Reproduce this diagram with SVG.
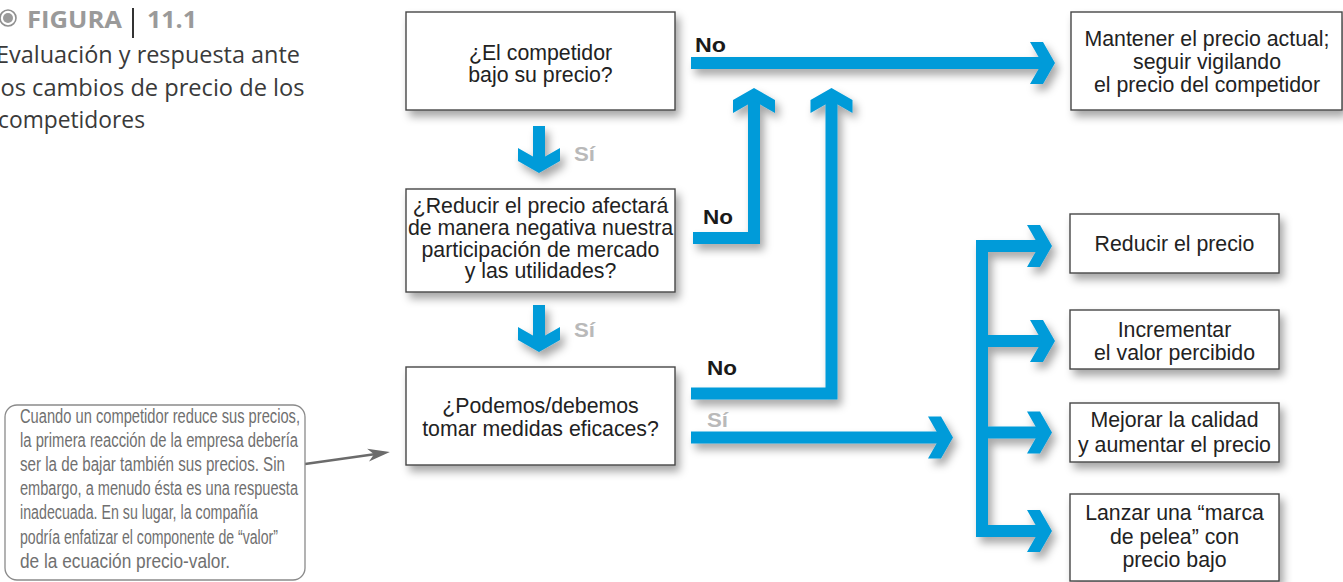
<svg xmlns="http://www.w3.org/2000/svg" width="1343" height="582" viewBox="0 0 1343 582">
  <defs>
    <filter id="sh" x="-20%" y="-20%" width="150%" height="160%">
      <feDropShadow dx="4" dy="6" stdDeviation="4" flood-color="#000" flood-opacity="0.35"/>
    </filter>
    <marker id="ah" viewBox="-30 -25 35 50" refX="-8" refY="0" markerWidth="35" markerHeight="50" markerUnits="userSpaceOnUse" orient="auto" overflow="visible">
      <polygon points="0,0 -12,-21 -25,-21 -13,0 -25,21 -12,21" fill="#009bd9"/>
    </marker>
    <marker id="ah2" viewBox="-25 -8 27 16" refX="-14" refY="0" markerWidth="27" markerHeight="16" markerUnits="userSpaceOnUse" orient="auto" overflow="visible">
      <polygon points="0,0 -22,-6.5 -16,0 -22,6.5" fill="#6b6b6b"/>
    </marker>
    <style>
      .box { fill: #fff; stroke: #464646; stroke-width: 1.4; }
      .bt { font-family: "Liberation Sans", Arial, sans-serif; font-size: 21.3px; fill: #222; text-anchor: middle; }
      .flow { fill: none; stroke: #009bd9; stroke-width: 12; stroke-linejoin: miter; stroke-linecap: butt; }
      .no { font-family: "Liberation Sans", Arial, sans-serif; font-weight: bold; font-size: 21px; fill: #1a1a1a; }
      .si { font-family: "Liberation Sans", Arial, sans-serif; font-weight: bold; font-size: 21px; fill: #b9b9b9; }
      .ann { font-family: "Liberation Sans Narrow", "Liberation Sans", Arial, sans-serif; font-size: 19.5px; fill: #707070; }
      .fig { font-family: "Open Sans", "Noto Sans", sans-serif; font-weight: bold; font-size: 24px; fill: #9a9a9a; }
      .sub { font-family: "Open Sans", "Noto Sans", sans-serif; font-size: 23px; fill: #3a3a3a; }
    </style>
  </defs>

  <g id="title">
    <circle cx="8" cy="18" r="8" fill="none" stroke="#8f8f8f" stroke-width="1.6"/>
    <circle cx="8" cy="18" r="5" fill="#9a9a9a"/>
    <text class="fig" x="27" y="28" textLength="95" lengthAdjust="spacingAndGlyphs">FIGURA</text>
    <line x1="133" y1="8" x2="133" y2="38" stroke="#333" stroke-width="2"/>
    <text class="fig" x="147" y="28" textLength="50" lengthAdjust="spacingAndGlyphs">11.1</text>
    <text class="sub" x="-4" y="63" textLength="304" lengthAdjust="spacingAndGlyphs">Evaluación y respuesta ante</text>
    <text class="sub" x="-5.5" y="96" textLength="310" lengthAdjust="spacingAndGlyphs">los cambios de precio de los</text>
    <text class="sub" x="-2" y="128" textLength="147" lengthAdjust="spacingAndGlyphs">competidores</text>
  </g>

  <g id="connectors">
    <g filter="url(#sh)">
      <path class="flow" d="M691,63 H1047" marker-end="url(#ah)"/>
      <path class="flow" d="M693,238 H754 V96" marker-end="url(#ah)"/>
      <path class="flow" d="M691,393.5 H831.5 V96" marker-end="url(#ah)"/>
      <path class="flow" d="M691,437.5 H945" marker-end="url(#ah)"/>
      <path class="flow" d="M539,126 V165" marker-end="url(#ah)"/>
      <path class="flow" d="M539,305 V344" marker-end="url(#ah)"/>
      <path class="flow" d="M982,240 V537" stroke-width="13"/>
      <path class="flow" d="M976,246 H1044" marker-end="url(#ah)"/>
      <path class="flow" d="M976,341 H1047" marker-end="url(#ah)"/>
      <path class="flow" d="M976,432.5 H1044" marker-end="url(#ah)"/>
      <path class="flow" d="M976,531 H1044" marker-end="url(#ah)"/>
    </g>
    <line x1="305" y1="464" x2="376" y2="454" stroke="#6b6b6b" stroke-width="2.5" marker-end="url(#ah2)"/>
    <text class="no" x="695" y="52" textLength="31" lengthAdjust="spacingAndGlyphs">No</text>
    <text class="no" x="703" y="224" textLength="30" lengthAdjust="spacingAndGlyphs">No</text>
    <text class="no" x="707" y="375" textLength="30" lengthAdjust="spacingAndGlyphs">No</text>
    <text class="si" x="707" y="427" textLength="21" lengthAdjust="spacingAndGlyphs">Sí</text>
    <text class="si" x="574" y="161" textLength="21" lengthAdjust="spacingAndGlyphs">Sí</text>
    <text class="si" x="574" y="337" textLength="21" lengthAdjust="spacingAndGlyphs">Sí</text>
  </g>

  <g id="q1">
    <rect class="box" x="406" y="12" width="269" height="98" filter="url(#sh)"/>
    <text class="bt" x="540.5" y="60">¿El competidor</text>
    <text class="bt" x="540.5" y="82">bajo su precio?</text>
  </g>
  <g id="q2">
    <rect class="box" x="406" y="189" width="269" height="103" filter="url(#sh)"/>
    <text class="bt" x="540.5" y="213">¿Reducir el precio afectará</text>
    <text class="bt" x="540.5" y="235">de manera negativa nuestra</text>
    <text class="bt" x="540.5" y="257">participación de mercado</text>
    <text class="bt" x="540.5" y="278">y las utilidades?</text>
  </g>
  <g id="q3">
    <rect class="box" x="406" y="367" width="269" height="98" filter="url(#sh)"/>
    <text class="bt" x="540.5" y="413">¿Podemos/debemos</text>
    <text class="bt" x="540.5" y="436">tomar medidas eficaces?</text>
  </g>
  <g id="keep">
    <rect class="box" x="1071" y="12" width="271" height="98" filter="url(#sh)"/>
    <text class="bt" x="1207" y="46">Mantener el precio actual;</text>
    <text class="bt" x="1207" y="69">seguir vigilando</text>
    <text class="bt" x="1207" y="92">el precio del competidor</text>
  </g>
  <g id="r1">
    <rect class="box" x="1070" y="214" width="209" height="59" filter="url(#sh)"/>
    <text class="bt" x="1174.5" y="251">Reducir el precio</text>
  </g>
  <g id="r2">
    <rect class="box" x="1070" y="310" width="209" height="59" filter="url(#sh)"/>
    <text class="bt" x="1174.5" y="337">Incrementar</text>
    <text class="bt" x="1174.5" y="360">el valor percibido</text>
  </g>
  <g id="r3">
    <rect class="box" x="1070" y="403" width="209" height="59" filter="url(#sh)"/>
    <text class="bt" x="1174.5" y="427">Mejorar la calidad</text>
    <text class="bt" x="1174.5" y="452">y aumentar el precio</text>
  </g>
  <g id="r4">
    <rect class="box" x="1070" y="494" width="209" height="87" filter="url(#sh)"/>
    <text class="bt" x="1174.5" y="520">Lanzar una “marca</text>
    <text class="bt" x="1174.5" y="544">de pelea” con</text>
    <text class="bt" x="1174.5" y="567">precio bajo</text>
  </g>

  <g id="note">
    <rect x="5" y="405" width="300" height="175" rx="12" ry="12" fill="#fff" stroke="#8a8a8a" stroke-width="1.3"/>
    <text class="ann" x="20" y="423" textLength="280" lengthAdjust="spacingAndGlyphs">Cuando un competidor reduce sus precios,</text>
    <text class="ann" x="20" y="447" textLength="278" lengthAdjust="spacingAndGlyphs">la primera reacción de la empresa debería</text>
    <text class="ann" x="20" y="471" textLength="265" lengthAdjust="spacingAndGlyphs">ser la de bajar también sus precios. Sin</text>
    <text class="ann" x="20" y="495" textLength="278" lengthAdjust="spacingAndGlyphs">embargo, a menudo ésta es una respuesta</text>
    <text class="ann" x="20" y="519" textLength="238" lengthAdjust="spacingAndGlyphs">inadecuada. En su lugar, la compañía</text>
    <text class="ann" x="20" y="544" textLength="258" lengthAdjust="spacingAndGlyphs">podría enfatizar el componente de “valor”</text>
    <text class="ann" x="20" y="568" textLength="210" lengthAdjust="spacingAndGlyphs">de la ecuación precio-valor.</text>
  </g>
</svg>
